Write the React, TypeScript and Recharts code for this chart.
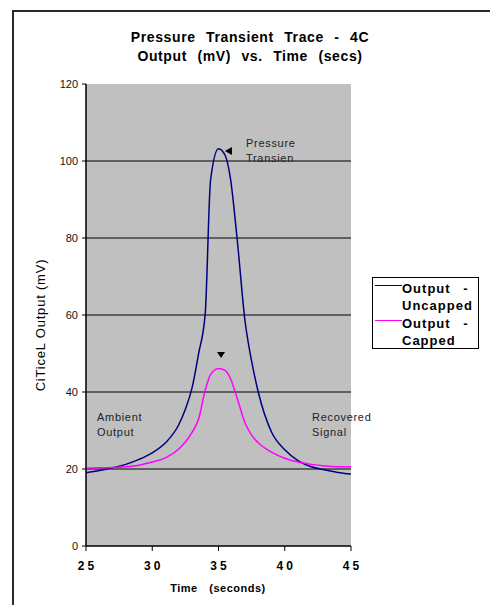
import React from "react";
import {
  LineChart,
  Line,
  XAxis,
  YAxis,
  CartesianGrid,
  ReferenceDot,
} from "recharts";

const FONT = '"Liberation Sans", Arial, sans-serif';

// time (s)
const times = [
  25, 26, 27, 28, 29, 30, 31, 32, 32.5, 33, 33.5, 34, 34.4, 35, 35.5, 35.9, 36.4,
  37, 37.5, 38, 39, 40, 41, 42, 43, 44, 45,
];
// Output - Uncapped (mV)
const uncapped = [
  19.0, 19.6, 20.3, 21.2, 22.5, 24.2, 26.8, 31.5, 35.5, 41, 50, 60.5, 95, 103.2, 101.5, 95.5, 80,
  58.5, 48, 40, 29.6, 25, 22.2, 20.6, 19.8, 19.1, 18.7,
];
// Output - Capped (mV)
const capped = [
  20.2, 20.3, 20.4, 20.6, 21.0, 21.8, 22.9, 25.2, 27, 29.5, 33, 40.5, 44.5, 46.1, 45.6, 43.5, 38.5,
  32, 28.8, 26.8, 24.4, 22.8, 21.8, 21.2, 20.8, 20.6, 20.6,
];

const xTicks = [25, 30, 35, 40, 45];
const yTicks = [0, 20, 40, 60, 80, 100, 120];
const gridValues = [20, 40, 60, 80, 100];

const data = times.map((t, i) => ({ t, uncapped: uncapped[i], capped: capped[i] }));

const BLUE = "#000080";
const PINK = "#ff00ff";

const noteStyle: React.CSSProperties = {
  position: "absolute",
  fontSize: 11,
  lineHeight: "15px",
  letterSpacing: 0.7,
  color: "#222",
  whiteSpace: "nowrap",
};

export default function App() {
  return (
    <div
      style={{
        position: "absolute",
        left: 0,
        top: 0,
        width: 490,
        height: 605,
        background: "#fff",
        fontFamily: FONT,
        overflow: "hidden",
      }}
    >
      {/* outer chart border, only its top and left edges are in frame */}
      <div
        style={{
          position: "absolute",
          left: 12,
          top: 10,
          width: 500,
          height: 620,
          borderLeft: "2px solid #2a2a2a",
          borderTop: "2px solid #2a2a2a",
        }}
      />

      <div
        style={{
          position: "absolute",
          left: 0,
          top: 28,
          width: 500,
          textAlign: "center",
          fontSize: 14,
          fontWeight: "bold",
          lineHeight: "19px",
          letterSpacing: 0.6,
          wordSpacing: 6,
          color: "#000",
        }}
      >
        Pressure Transient Trace - 4C
        <br />
        Output (mV) vs. Time (secs)
      </div>

      <LineChart
        width={490}
        height={605}
        data={data}
        margin={{ top: 84, right: 139, bottom: 29, left: 46 }}
        style={{ position: "absolute", left: 0, top: 0 }}
      >
        <CartesianGrid
          vertical={false}
          horizontalValues={gridValues}
          stroke="#000"
          strokeWidth={1}
          fill="#c0c0c0"
          fillOpacity={1}
        />
        <XAxis
          dataKey="t"
          type="number"
          domain={[25, 45]}
          ticks={xTicks}
          height={30}
          axisLine={{ stroke: "#000", strokeWidth: 1.5 }}
          tickLine={{ stroke: "#000" }}
          tickSize={5}
          tickMargin={10}
          tick={{ fontSize: 12, fontWeight: "bold", fill: "#000", fontFamily: FONT, letterSpacing: 3, dx: 1.5 }}
        />
        <YAxis
          type="number"
          domain={[0, 120]}
          ticks={yTicks}
          width={40}
          axisLine={{ stroke: "#000", strokeWidth: 1.5 }}
          tickLine={{ stroke: "#000" }}
          tickSize={4}
          tickMargin={4}
          tick={{ fontSize: 11, fill: "#111", fontFamily: FONT }}
        />
        <Line
          type="monotone"
          dataKey="uncapped"
          stroke={BLUE}
          strokeWidth={1.5}
          dot={false}
          isAnimationActive={false}
        />
        <Line
          type="monotone"
          dataKey="capped"
          stroke={PINK}
          strokeWidth={1.5}
          dot={false}
          isAnimationActive={false}
        />
        <ReferenceDot
          x={35.79}
          y={102.6}
          shape={(p: any) => (
            <polygon
              points={`${p.cx - 4},${p.cy} ${p.cx + 3},${p.cy - 4} ${p.cx + 3},${p.cy + 4}`}
              fill="#000"
            />
          )}
        />
        <ReferenceDot
          x={35.19}
          y={49.6}
          shape={(p: any) => (
            <polygon
              points={`${p.cx - 4},${p.cy - 3} ${p.cx + 4},${p.cy - 3} ${p.cx},${p.cy + 3}`}
              fill="#000"
            />
          )}
        />
      </LineChart>

      <div style={{ ...noteStyle, left: 246, top: 136 }}>
        Pressure
        <br />
        Transien
      </div>
      <div style={{ ...noteStyle, left: 97, top: 410 }}>
        Ambient
        <br />
        Output
      </div>
      <div style={{ ...noteStyle, left: 312, top: 410 }}>
        Recovered
        <br />
        Signal
      </div>

      <div
        style={{
          position: "absolute",
          left: 40,
          top: 325,
          transform: "translate(-50%, -50%) rotate(-90deg)",
          fontSize: 13,
          letterSpacing: 0.8,
          whiteSpace: "nowrap",
          color: "#000",
        }}
      >
        CiTiceL Output (mV)
      </div>

      <div
        style={{
          position: "absolute",
          left: 118,
          top: 582,
          width: 200,
          textAlign: "center",
          fontSize: 11,
          fontWeight: "bold",
          letterSpacing: 0.5,
          wordSpacing: 8,
          color: "#000",
        }}
      >
        Time (seconds)
      </div>

      {/* legend */}
      <div
        style={{
          position: "absolute",
          left: 372,
          top: 277,
          width: 105,
          height: 70,
          border: "1px solid #000",
          background: "#fff",
        }}
      >
        {[
          { label: "Output -", sub: "Uncapped", color: BLUE },
          { label: "Output -", sub: "Capped", color: PINK },
        ].map((s, i) => (
          <div key={i} style={{ position: "absolute", left: 0, top: 2 + i * 35 }}>
            <div
              style={{
                position: "absolute",
                left: 2,
                top: 5,
                width: 27,
                height: 0,
                borderTop: `1.5px solid ${s.color}`,
              }}
            />
            <div
              style={{
                position: "absolute",
                left: 29,
                top: 0,
                fontSize: 13,
                fontWeight: "bold",
                lineHeight: "17px",
                letterSpacing: 1,
                wordSpacing: 8,
                whiteSpace: "nowrap",
                color: "#000",
              }}
            >
              {s.label}
              <br />
              {s.sub}
            </div>
          </div>
        ))}
      </div>
    </div>
  );
}
